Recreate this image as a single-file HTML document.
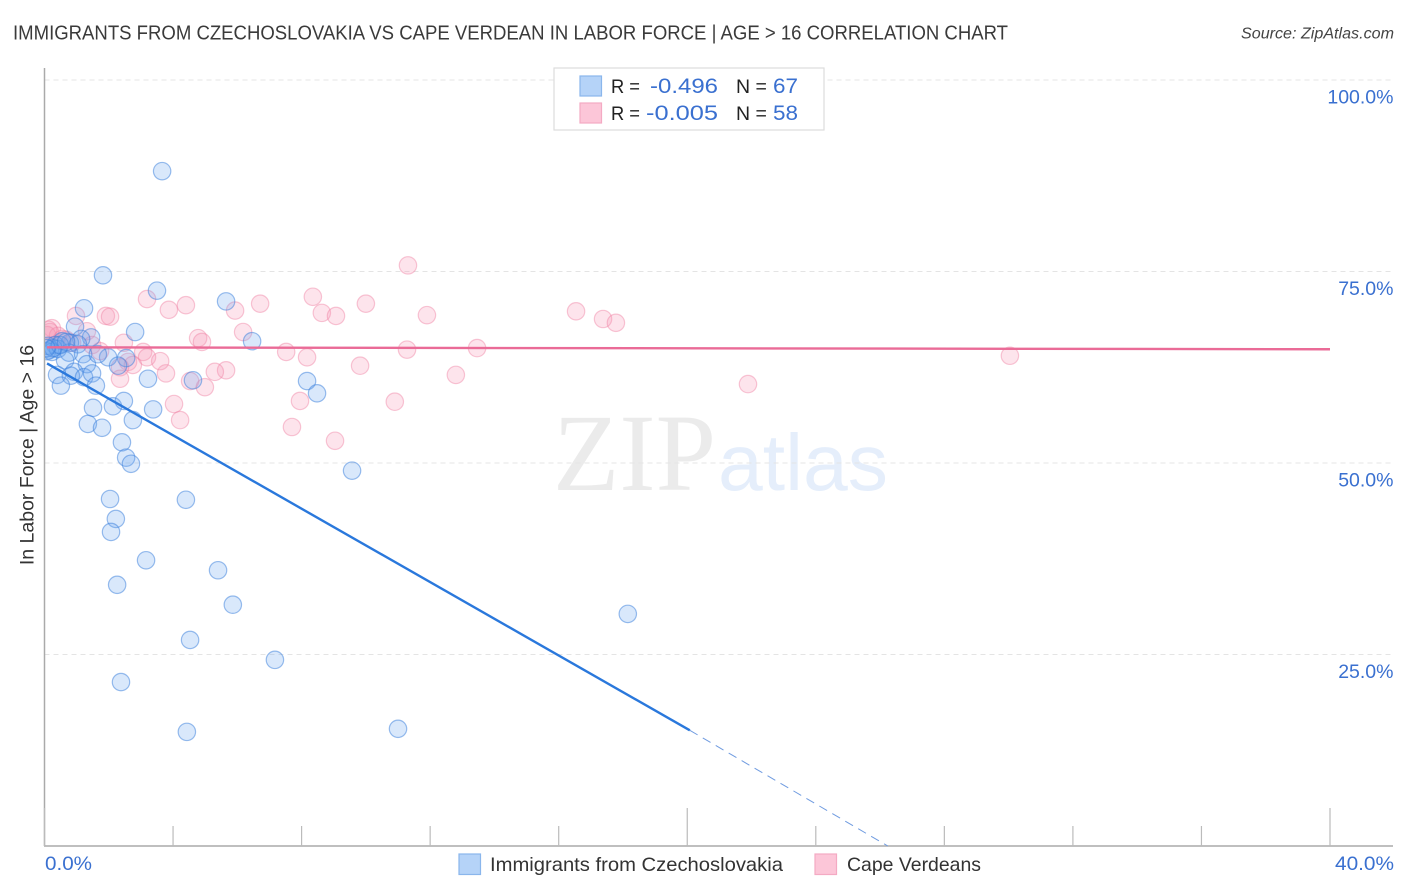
<!DOCTYPE html>
<html lang="en">
<head>
<meta charset="utf-8">
<title>Immigrants from Czechoslovakia vs Cape Verdean in Labor Force Correlation Chart</title>
<style>
html,body{margin:0;padding:0;background:#fff;width:1406px;height:892px;overflow:hidden}
svg{display:block;font-family:"Liberation Sans",Arial,sans-serif}
</style>
</head>
<body>
<svg id="chart" width="1406" height="892" viewBox="0 0 1406 892" xmlns="http://www.w3.org/2000/svg">
  <defs>
    <clipPath id="plot-clip"><rect x="45.2" y="60" width="1350" height="786"/></clipPath>
  </defs>
  <text x="13" y="39.5" font-size="20" fill="#3a3a3a" textLength="995" lengthAdjust="spacingAndGlyphs">IMMIGRANTS FROM CZECHOSLOVAKIA VS CAPE VERDEAN IN LABOR FORCE | AGE &gt; 16 CORRELATION CHART</text>
  <text x="1241" y="38.5" font-size="15.5" font-style="italic" fill="#444" textLength="153" lengthAdjust="spacingAndGlyphs">Source: ZipAtlas.com</text>

  <g>
    <text x="553" y="490" font-family="'Liberation Serif',serif" font-size="110" fill="#ebebeb" textLength="163" lengthAdjust="spacingAndGlyphs">ZIP</text>
    <text x="718" y="490" font-size="80" fill="#e5eefb" textLength="170" lengthAdjust="spacingAndGlyphs">atlas</text>
  </g>

  <g id="grid"></g>
  <g id="axes"></g>
  <g clip-path="url(#plot-clip)">
    <g id="pink-points"></g>
    <g id="blue-points"></g>
  </g>
  <g id="trends"></g>

  <text transform="translate(33.5,455) rotate(-90)" font-size="19.5" fill="#333" text-anchor="middle">In Labor Force | Age &gt; 16</text>

  <g>
    <rect x="554" y="68" width="270" height="62" fill="#fff" stroke="#ddd" stroke-width="1.2"/>
    <rect x="580" y="76" width="21.5" height="20" fill="#b5d3f8" stroke="#8ab6ec" stroke-width="1.2"/>
    <rect x="580" y="103" width="21.5" height="20" fill="#fcc6d8" stroke="#f4aac3" stroke-width="1.2"/>
    <text x="611" y="93" font-size="19.5" fill="#222" textLength="29" lengthAdjust="spacingAndGlyphs">R =</text>
    <text x="650" y="93" font-size="21" fill="#3a70d0" textLength="68" lengthAdjust="spacingAndGlyphs">-0.496</text>
    <text x="736" y="93" font-size="19.5" fill="#222">N =</text>
    <text x="773" y="93" font-size="21" fill="#3a70d0" textLength="25" lengthAdjust="spacingAndGlyphs">67</text>
    <text x="611" y="120" font-size="19.5" fill="#222" textLength="29" lengthAdjust="spacingAndGlyphs">R =</text>
    <text x="646" y="120" font-size="21" fill="#3a70d0" textLength="72" lengthAdjust="spacingAndGlyphs">-0.005</text>
    <text x="736" y="120" font-size="19.5" fill="#222">N =</text>
    <text x="773" y="120" font-size="21" fill="#3a70d0" textLength="25" lengthAdjust="spacingAndGlyphs">58</text>
  </g>

  <g>
    <rect x="459" y="854" width="21.5" height="20.5" fill="#b5d3f8" stroke="#8ab6ec" stroke-width="1.2"/>
    <text x="490" y="871" font-size="19.5" fill="#333" textLength="293" lengthAdjust="spacingAndGlyphs">Immigrants from Czechoslovakia</text>
    <rect x="815" y="854" width="21.5" height="20.5" fill="#fcc6d8" stroke="#f4aac3" stroke-width="1.2"/>
    <text x="847" y="871" font-size="19.5" fill="#333" textLength="134" lengthAdjust="spacingAndGlyphs">Cape Verdeans</text>
  </g>
</svg>
<script>
const yTickValues = [100, 75, 50, 25];
const yTickLabels = ["100.0%", "75.0%", "50.0%", "25.0%"];
const xTickValues = [0, 4, 8, 12, 16, 20, 24, 28, 32, 36, 40];
const xMajorTicks = [0, 20, 40];
const xEndLabels = ["0.0%", "40.0%"];
const blueX = [3.66,1.82,3.50,5.65,1.23,2.82,6.46,0.95,1.45,1.14,0.79,0.55,1.04,0.33,0.17,0.08,0.23,0.42,0.76,1.20,0.64,1.32,1.98,1.66,2.54,2.29,0.39,0.92,0.82,1.23,1.48,0.51,1.60,3.22,4.62,8.17,8.48,1.51,2.13,2.47,3.38,1.35,1.79,2.75,2.41,2.54,2.69,9.57,2.04,4.40,2.22,2.07,3.16,5.40,2.26,5.86,18.15,4.53,7.17,2.38,4.43,11.00,0.10,0.27,0.48,0.67,0.06];
const blueY = [88.1,74.5,72.5,71.1,70.2,67.1,65.9,67.8,66.4,66.2,65.7,65.9,65.5,65.4,64.8,64.6,64.5,64.9,64.4,64.2,63.4,62.9,63.8,64.2,63.7,62.7,61.5,61.9,61.4,61.2,61.7,60.1,60.1,61.0,60.8,60.7,59.1,57.2,57.4,58.1,57.0,55.1,54.6,55.6,52.7,50.7,49.9,49.0,45.3,45.2,42.7,41.0,37.3,36.0,34.1,31.5,30.3,26.9,24.3,21.4,14.9,15.3,65.3,65.0,65.4,65.8,65.0];
const pinkX = [11.31,8.35,3.19,4.40,6.71,10.00,3.87,5.93,8.63,9.07,11.90,16.54,17.38,17.78,1.91,2.04,0.98,6.18,1.32,4.78,4.90,2.47,0.23,0.17,0.08,0.42,0.67,0.86,1.48,1.73,3.07,7.52,8.17,11.28,13.46,30.04,2.60,3.19,3.60,2.75,2.35,9.82,5.65,5.30,3.78,12.80,2.35,4.53,4.99,21.89,4.03,7.95,10.90,4.22,7.70,9.04,0.12,0.55];
const pinkY = [75.8,71.7,71.4,70.6,70.8,70.8,70.0,69.9,69.6,69.2,69.3,69.8,68.8,68.3,69.2,69.1,69.2,67.1,67.2,66.3,65.8,65.7,67.6,67.1,66.7,66.6,66.1,65.7,65.4,64.6,64.5,64.5,63.8,64.8,65.0,64.0,63.2,63.8,63.3,62.8,62.5,62.7,62.1,61.9,61.7,61.5,61.0,60.7,59.9,60.3,57.7,58.1,58.0,55.6,54.7,52.9,67.4,66.2];
const blueTrendX = [0.08, 20.08];
const blueTrendY = [63.0, 15.1];
const blueTrendDashX = [20.08, 26.24];
const blueTrendDashY = [15.1, 0];
const pinkTrendX = [0.08, 40];
const pinkTrendY = [65.1, 64.85];

const NS = "http://www.w3.org/2000/svg";
const xScale = v => 44.5 + v * (1330 - 44.5) / 40;
const yScale = v => 846 - v * (846 - 80) / 100;
function mk(parent, tag, attrs, text) {
  const el = document.createElementNS(NS, tag);
  for (const k in attrs) el.setAttribute(k, attrs[k]);
  if (text !== undefined) el.textContent = text;
  document.getElementById(parent).appendChild(el);
  return el;
}

yTickValues.forEach((v, i) => {
  const line = mk("grid", "line", {x1: 44.5, x2: 1393, y1: yScale(v), y2: yScale(v), stroke: "#e4e4e4", "stroke-width": 1, "stroke-dasharray": "5 4"});
  
  
  const label = mk("axes", "text", {x: 1393.5, y: yScale(v) + 23.5, "font-size": 19.5, fill: "#3a70d0", "text-anchor": "end"}, yTickLabels[i]);
  
  
});

const yAxis = mk("axes", "line", {x1: 44.5, x2: 44.5, y1: 68, y2: 846, stroke: "#aaa", "stroke-width": 1.5});


const xAxis = mk("axes", "line", {x1: 44, x2: 1393, y1: 846, y2: 846, stroke: "#aaa", "stroke-width": 1.5});



xTickValues.forEach(v => {
  const top = xMajorTicks.includes(v) ? 808 : 826;
  const tick = mk("axes", "line", {x1: xScale(v), x2: xScale(v), y1: top, y2: 846, stroke: "#bbb", "stroke-width": 1.2});
  
  
});

const xLabelLeft = mk("axes", "text", {x: 45, y: 870, "font-size": 19.5, fill: "#3a70d0", textLength: 47, lengthAdjust: "spacingAndGlyphs"}, xEndLabels[0]);


const xLabelRight = mk("axes", "text", {x: 1335, y: 870, "font-size": 19.5, fill: "#3a70d0", textLength: 59, lengthAdjust: "spacingAndGlyphs"}, xEndLabels[1]);



pinkX.forEach((v, i) => {
  const pt = mk("pink-points", "circle", {cx: xScale(v), cy: yScale(pinkY[i]), r: 8.7, fill: "rgba(248,150,180,0.26)", stroke: "rgba(240,130,165,0.45)", "stroke-width": 1.2});
  
  
});
blueX.forEach((v, i) => {
  const pt = mk("blue-points", "circle", {cx: xScale(v), cy: yScale(blueY[i]), r: 8.7, fill: "rgba(110,165,240,0.26)", stroke: "rgba(55,125,220,0.5)", "stroke-width": 1.2});
  
  
});

const blueTrend = mk("trends", "line", {x1: xScale(blueTrendX[0]), y1: yScale(blueTrendY[0]), x2: xScale(blueTrendX[1]), y2: yScale(blueTrendY[1]), stroke: "#2a78dc", "stroke-width": 2.4});


const blueDash = mk("trends", "line", {x1: xScale(blueTrendDashX[0]), y1: yScale(blueTrendDashY[0]), x2: xScale(blueTrendDashX[1]), y2: yScale(blueTrendDashY[1]), stroke: "#6f9be0", "stroke-width": 1, "stroke-dasharray": "9 6"});


const pinkTrend = mk("trends", "line", {x1: xScale(pinkTrendX[0]), y1: yScale(pinkTrendY[0]), x2: xScale(pinkTrendX[1]), y2: yScale(pinkTrendY[1]), stroke: "#ea6b97", "stroke-width": 2.4});


</script>
</body>
</html>
